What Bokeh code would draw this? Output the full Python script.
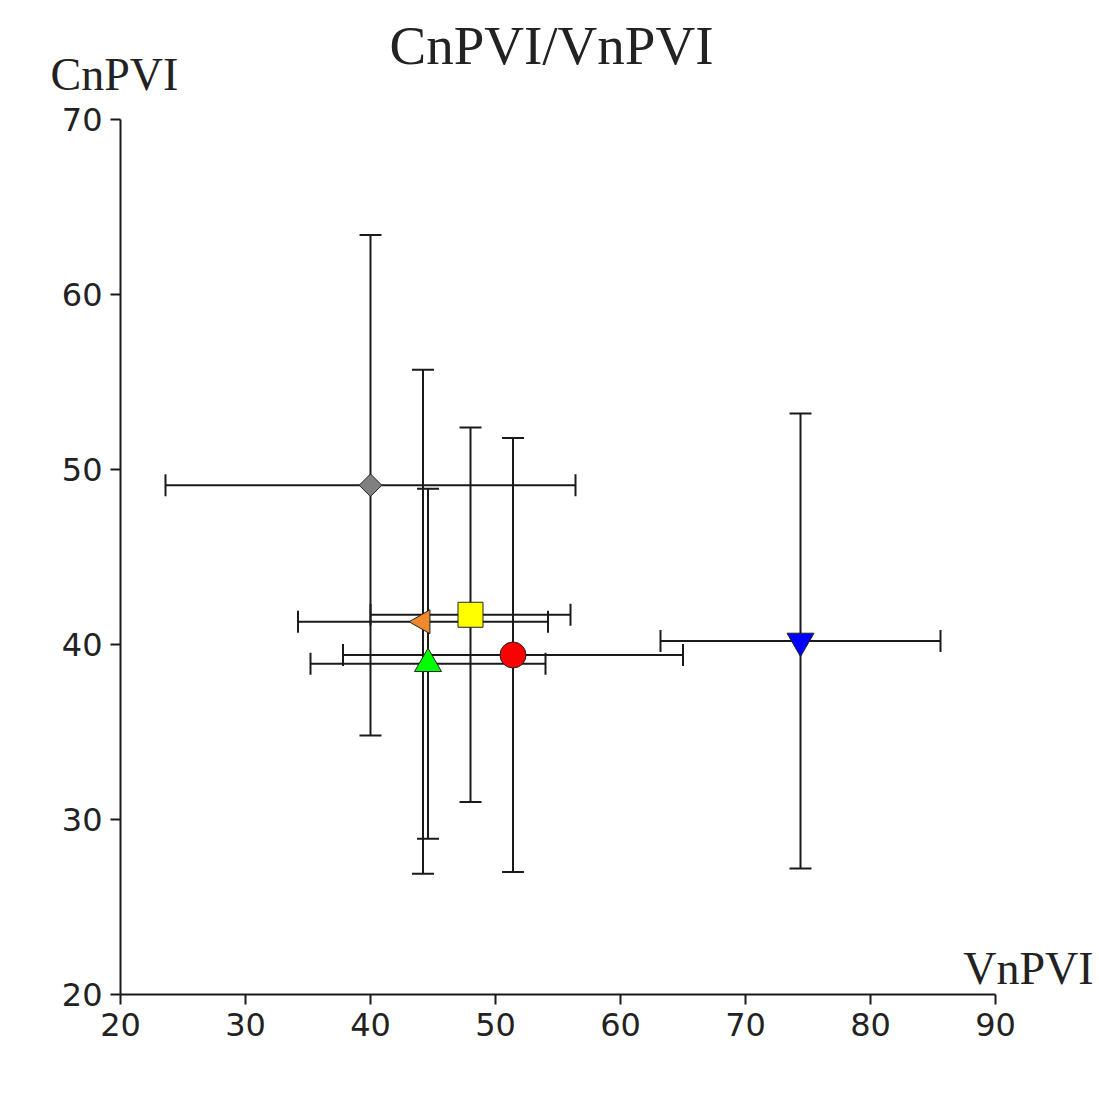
import math
from bokeh.plotting import figure
from bokeh.models import ColumnDataSource, Range1d, Whisker, TeeHead, Label, FixedTicker
from bokeh.embed import file_html
from bokeh.resources import INLINE

# ---- data ----
groups = ["gray", "orange", "yellow", "red", "green", "blue"]
vnpvi = [40.0, 44.2, 48.0, 51.4, 44.6, 74.4]        # x mean
vnpvi_sd = [16.4, 10.0, 8.0, 13.6, 9.4, 11.2]       # x error
cnpvi = [49.1, 41.3, 41.7, 39.4, 38.9, 40.2]        # y mean
cnpvi_sd = [14.3, 14.4, 10.7, 12.4, 10.0, 13.0]     # y error
x_ticks = [20, 30, 40, 50, 60, 70, 80, 90]
y_ticks = [20, 30, 40, 50, 60, 70]

# ---- styles ----
fills = ["#808080", "#EE8A2C", "#FFFF00", "#FF0000", "#00FF00", "#0000FF"]
markers = ["square", "triangle", "square", "circle", "triangle", "inverted_triangle"]
angles = [math.pi / 4, math.pi / 2, 0, 0, 0, 0]
sizes = [16, 24, 25, 26, 27, 27]

src = ColumnDataSource(dict(
    x=vnpvi, y=cnpvi,
    xl=[a - b for a, b in zip(vnpvi, vnpvi_sd)],
    xu=[a + b for a, b in zip(vnpvi, vnpvi_sd)],
    yl=[a - b for a, b in zip(cnpvi, cnpvi_sd)],
    yu=[a + b for a, b in zip(cnpvi, cnpvi_sd)],
    fill=fills, marker=markers, angle=angles, size=sizes,
))

p = figure(width=1099, height=1105, output_backend="svg", toolbar_location=None,
           x_range=Range1d(20, 90), y_range=Range1d(20, 70),
           min_border_left=120, min_border_right=104,
           min_border_top=119, min_border_bottom=111)
p.outline_line_color = None
p.grid.visible = False
p.background_fill_color = "white"
p.border_fill_color = "white"

for ax, ticks in ((p.xaxis[0], x_ticks), (p.yaxis[0], y_ticks)):
    ax.ticker = FixedTicker(ticks=ticks)
    ax.axis_line_width = 2
    ax.axis_line_color = "#1a1a1a"
    ax.major_tick_line_width = 2
    ax.major_tick_line_color = "#1a1a1a"
    ax.major_tick_out = 10
    ax.major_tick_in = 0
    ax.minor_tick_line_color = None
    ax.major_label_text_font = "DejaVu Sans"
    ax.major_label_text_font_size = "32px"
    ax.major_label_text_color = "#222222"
    ax.major_label_standoff = 8

def head():
    return TeeHead(size=22, line_width=2, line_color="#1a1a1a")

wx = Whisker(source=src, base="y", lower="xl", upper="xu", dimension="width",
             line_color="#1a1a1a", line_width=2, lower_head=head(), upper_head=head(),
             level="underlay")
wy = Whisker(source=src, base="x", lower="yl", upper="yu", dimension="height",
             line_color="#1a1a1a", line_width=2, lower_head=head(), upper_head=head(),
             level="underlay")
p.add_layout(wx)
p.add_layout(wy)

p.scatter(x="x", y="y", source=src, marker="marker", angle="angle", size="size",
          fill_color="fill", line_color="#222222", line_width=1)

serif = "Liberation Serif"
# texts live in side panels (not clipped to the frame), placed in canvas pixels
p.add_layout(Label(x=551, y=45, x_units="canvas", y_units="canvas", text="CnPVI/VnPVI",
                   text_align="center", text_baseline="alphabetic", text_font=serif,
                   text_font_size="55px", text_color="#222222"), "above")
p.add_layout(Label(x=50, y=74, x_units="canvas", y_units="canvas", text="CnPVI",
                   text_align="left", text_baseline="alphabetic", text_font=serif,
                   text_font_size="46px", text_color="#222222"), "above")
p.add_layout(Label(x=1093, y=968, x_units="canvas", y_units="canvas", text="VnPVI",
                   text_align="right", text_baseline="alphabetic", text_font=serif,
                   text_font_size="46px", text_color="#222222"), "below")

open("out.html", "w").write(file_html(p, INLINE))
